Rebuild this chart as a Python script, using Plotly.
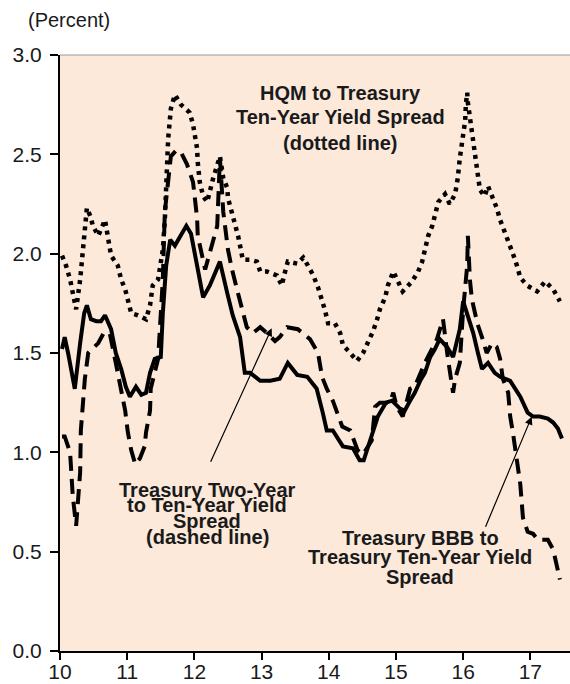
import plotly.graph_objects as go

# ---------------- data (decimal years, percent) ----------------
bbb_x = [10.03, 10.07, 10.12, 10.18, 10.22, 10.30, 10.36, 10.40, 10.46, 10.54, 10.61, 10.67,
         10.76, 10.83, 10.91, 10.98, 11.04, 11.13, 11.21, 11.28, 11.34, 11.41, 11.50, 11.53,
         11.58, 11.64, 11.71, 11.76, 11.88, 11.95, 12.04, 12.13, 12.23, 12.38, 12.49, 12.57,
         12.68, 12.75, 12.83, 12.98, 13.13, 13.27, 13.39, 13.53, 13.68, 13.82, 13.91, 13.97,
         14.06, 14.21, 14.36, 14.46, 14.52, 14.61, 14.73, 14.85, 14.94, 15.06, 15.13, 15.21,
         15.28, 15.36, 15.43, 15.51, 15.58, 15.65, 15.76, 15.85, 15.91, 15.95, 16.00, 16.06,
         16.15, 16.22, 16.28, 16.37, 16.47, 16.55, 16.70, 16.85, 16.96, 17.04, 17.14, 17.26,
         17.34, 17.41, 17.47]
bbb_y = [1.52, 1.58, 1.50, 1.40, 1.32, 1.55, 1.70, 1.74, 1.67, 1.66, 1.66, 1.69,
         1.62, 1.50, 1.42, 1.33, 1.28, 1.33, 1.29, 1.30, 1.40, 1.47, 1.48, 1.70,
         1.94, 2.07, 2.04, 2.07, 2.14, 2.10, 1.95, 1.78, 1.84, 1.96, 1.80, 1.69,
         1.58, 1.40, 1.40, 1.36, 1.36, 1.37, 1.45, 1.39, 1.38, 1.32, 1.20, 1.11,
         1.11, 1.03, 1.02, 0.96, 0.96, 1.06, 1.18, 1.25, 1.26, 1.22, 1.21, 1.26,
         1.30, 1.36, 1.40, 1.48, 1.52, 1.57, 1.53, 1.48, 1.57, 1.62, 1.76, 1.70,
         1.60, 1.50, 1.42, 1.45, 1.40, 1.38, 1.36, 1.28, 1.20, 1.18, 1.18, 1.17,
         1.15, 1.12, 1.07]

two_ten_x = [10.03, 10.07, 10.15, 10.19, 10.24, 10.30, 10.31, 10.37, 10.42, 10.57, 10.65, 10.74,
             10.83, 10.91, 10.97, 11.01, 11.06, 11.12, 11.19, 11.26, 11.28, 11.34, 11.35, 11.46,
             11.53, 11.56, 11.61, 11.65, 11.73, 11.80, 11.89, 11.98, 12.04, 12.05, 12.16, 12.28,
             12.34, 12.38, 12.43, 12.50, 12.56, 12.65, 12.72, 12.78, 12.87, 12.98, 13.08, 13.20,
             13.27, 13.38, 13.54, 13.72, 13.84, 13.90, 13.97, 14.06, 14.20, 14.32, 14.43, 14.51,
             14.64, 14.69, 14.76, 14.91, 14.96, 15.01, 15.10, 15.21, 15.28, 15.43, 15.61, 15.70,
             15.77, 15.85, 15.88, 15.95, 16.00, 16.06, 16.07, 16.10, 16.13, 16.21, 16.29, 16.35,
             16.43, 16.50, 16.55, 16.59, 16.67, 16.70, 16.74, 16.80, 16.85, 16.89, 16.96, 17.04,
             17.11, 17.19, 17.26, 17.34, 17.37, 17.44]
two_ten_y = [1.08, 1.08, 1.00, 0.78, 0.63, 0.90, 1.11, 1.37, 1.50, 1.55, 1.60, 1.60,
             1.45, 1.30, 1.21, 1.10, 1.01, 0.94, 0.97, 1.03, 1.10, 1.21, 1.32, 1.47,
             1.87, 2.21, 2.39, 2.49, 2.52, 2.51, 2.45, 2.36, 2.18, 2.09, 1.92, 2.06,
             2.14, 2.48, 2.21, 2.02, 1.92, 1.80, 1.70, 1.63, 1.60, 1.63, 1.60, 1.56,
             1.58, 1.63, 1.62, 1.57, 1.50, 1.38, 1.32, 1.26, 1.13, 1.11, 1.01, 0.99,
             1.06, 1.23, 1.25, 1.25, 1.30, 1.23, 1.18, 1.32, 1.33, 1.45, 1.57, 1.67,
             1.48, 1.30, 1.37, 1.45, 1.72, 1.94, 2.09, 1.87, 1.77, 1.65, 1.57, 1.50,
             1.55, 1.53, 1.47, 1.37, 1.30, 1.18, 1.10, 0.95, 0.84, 0.67, 0.60, 0.59,
             0.56, 0.56, 0.56, 0.51, 0.47, 0.36]

hqm_x = [10.03, 10.09, 10.15, 10.19, 10.24, 10.30, 10.33, 10.37, 10.40, 10.45, 10.49, 10.57,
         10.61, 10.67, 10.70, 10.76, 10.86, 10.91, 10.97, 11.01, 11.06, 11.16, 11.28, 11.34,
         11.38, 11.46, 11.53, 11.56, 11.58, 11.61, 11.65, 11.71, 11.80, 11.93, 11.98, 12.01,
         12.04, 12.05, 12.08, 12.13, 12.19, 12.28, 12.38, 12.43, 12.49, 12.50, 12.56, 12.60,
         12.65, 12.68, 12.72, 12.83, 12.93, 12.98, 13.08, 13.23, 13.30, 13.35, 13.39, 13.53,
         13.62, 13.69, 13.77, 13.84, 13.90, 13.94, 13.99, 14.09, 14.17, 14.21, 14.32, 14.42,
         14.51, 14.58, 14.66, 14.72, 14.76, 14.84, 14.88, 14.96, 15.03, 15.10, 15.24, 15.33,
         15.39, 15.43, 15.48, 15.54, 15.58, 15.63, 15.73, 15.80, 15.88, 15.92, 15.95, 15.98,
         16.00, 16.03, 16.04, 16.06, 16.07, 16.10, 16.13, 16.15, 16.18, 16.21, 16.22, 16.25,
         16.32, 16.37, 16.44, 16.50, 16.55, 16.62, 16.67, 16.74, 16.80, 16.85, 16.95, 17.10,
         17.22, 17.34, 17.44]
hqm_y = [1.99, 1.94, 1.87, 1.80, 1.72, 1.87, 1.97, 2.11, 2.23, 2.19, 2.14, 2.09,
         2.12, 2.17, 2.11, 1.99, 1.94, 1.87, 1.82, 1.76, 1.70, 1.69, 1.67, 1.74,
         1.84, 1.87, 2.02, 2.17, 2.38, 2.58, 2.73, 2.80, 2.75, 2.71, 2.65, 2.58,
         2.53, 2.46, 2.36, 2.29, 2.26, 2.38, 2.49, 2.38, 2.33, 2.28, 2.21, 2.16,
         2.09, 2.04, 1.97, 1.97, 1.96, 1.91, 1.91, 1.89, 1.84, 1.91, 1.96, 1.95,
         1.98, 1.94, 1.89, 1.83, 1.77, 1.72, 1.65, 1.65, 1.60, 1.54, 1.50, 1.46,
         1.50, 1.55, 1.61, 1.67, 1.72, 1.78, 1.84, 1.91, 1.86, 1.81, 1.86, 1.91,
         1.96, 2.02, 2.09, 2.14, 2.20, 2.26, 2.30, 2.25, 2.30, 2.38, 2.48, 2.55,
         2.61, 2.67, 2.75, 2.81, 2.76, 2.69, 2.63, 2.57, 2.51, 2.45, 2.39, 2.32,
         2.29, 2.34, 2.28, 2.23, 2.17, 2.11, 2.06, 2.00, 1.94, 1.88, 1.84, 1.81,
         1.86, 1.82, 1.76]

x_ticks = [10, 11, 12, 13, 14, 15, 16, 17]
y_ticks = [0.0, 0.5, 1.0, 1.5, 2.0, 2.5, 3.0]

FONT = "Liberation Sans, Arial, sans-serif"
TXT = "#1a1a1a"

fig = go.Figure()
fig.add_trace(go.Scatter(x=hqm_x, y=hqm_y, mode="lines",
                         line=dict(color="black", width=4.5, dash="4px,5px"),
                         showlegend=False, hoverinfo="skip"))
fig.add_trace(go.Scatter(x=two_ten_x, y=two_ten_y, mode="lines",
                         line=dict(color="black", width=4, dash="15px,8px"),
                         showlegend=False, hoverinfo="skip"))
fig.add_trace(go.Scatter(x=bbb_x, y=bbb_y, mode="lines",
                         line=dict(color="black", width=4),
                         showlegend=False, hoverinfo="skip"))

annotations = []

def label(x, y, text, size=20):
    annotations.append(dict(x=x, y=y, xref="x", yref="y", text="<b>" + text + "</b>",
                            showarrow=False, xanchor="center", yanchor="middle",
                            font=dict(family=FONT, size=size, color=TXT)))

# HQM text
label(14.17, 2.81, "HQM to Treasury")
label(14.17, 2.69, "Ten-Year Yield Spread")
label(14.17, 2.555, "(dotted line)")
# two-ten text
label(12.19, 0.81, "Treasury Two-Year")
label(12.19, 0.733, "to Ten-Year Yield")
label(12.19, 0.656, "Spread")
label(12.19, 0.572, "(dashed line)")
# BBB text
label(15.36, 0.57, "Treasury BBB to")
label(15.36, 0.473, "Treasury Ten-Year Yield")
label(15.36, 0.375, "Spread")

# arrows
for (hx, hy, tx, ty) in [(13.15, 1.624, 12.232, 0.945), (17.02, 1.179, 16.324, 0.618)]:
    annotations.append(dict(x=hx, y=hy, ax=tx, ay=ty, xref="x", yref="y", axref="x", ayref="y",
                            text="", showarrow=True, arrowhead=2, arrowsize=1.3,
                            arrowwidth=1.2, arrowcolor="black", standoff=0))

annotations.append(dict(x=-0.067, y=1.059, xref="paper", yref="paper", text="(Percent)",
                        showarrow=False, xanchor="left", yanchor="middle",
                        font=dict(family=FONT, size=20, color=TXT)))

fig.update_layout(
    width=570, height=684,
    margin=dict(l=60, r=0, t=55, b=33),
    paper_bgcolor="white",
    plot_bgcolor="#FCE9DA",
    annotations=annotations,
    shapes=[dict(type="line", xref="paper", yref="paper", x0=0, x1=1, y0=1, y1=1,
                 line=dict(color="#9a9a9a", width=1))],
    xaxis=dict(range=[10, 17.59], tickvals=x_ticks, ticktext=[str(v) for v in x_ticks],
               showgrid=False, zeroline=False, showline=True, linecolor="black", linewidth=2,
               ticks="outside", ticklen=7, tickwidth=1.5, tickcolor="black",
               ticklabelstandoff=-6,
               tickfont=dict(family=FONT, size=21, color=TXT)),
    yaxis=dict(range=[0, 3], tickvals=y_ticks, ticktext=[f"{v:.1f}" for v in y_ticks],
               showgrid=False, zeroline=False, showline=True, linecolor="black", linewidth=2,
               ticks="outside", ticklen=8, tickwidth=1.5, tickcolor="black",
               ticklabelstandoff=4,
               tickfont=dict(family=FONT, size=21, color=TXT)),
)

# remove the page's default body margin so the 570x684 figure fills the window exactly
fig.write_html("out.html",
               config={"displayModeBar": False},
               post_script="document.body.style.margin='0';document.body.style.overflow='hidden';")
